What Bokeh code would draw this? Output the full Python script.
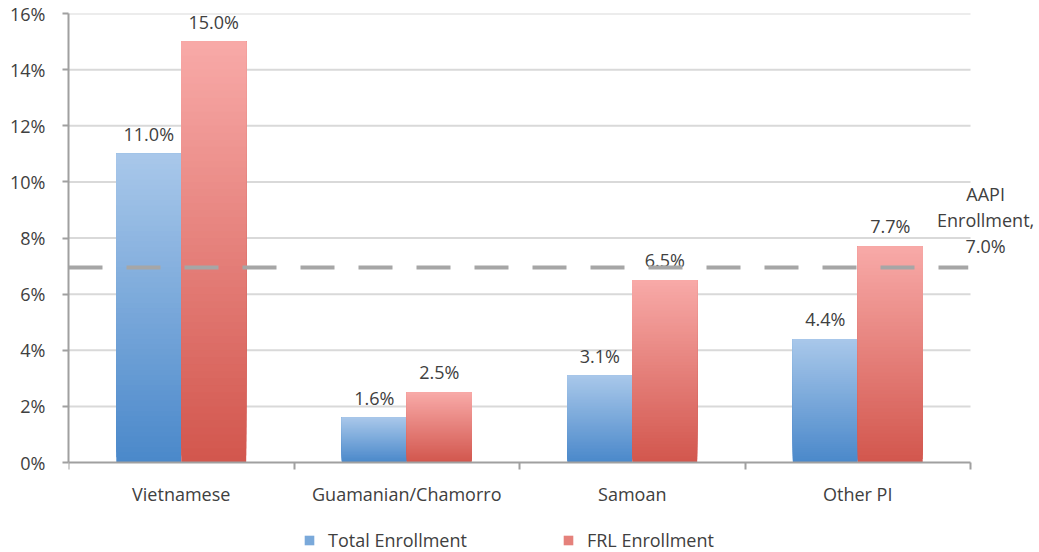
import numpy as np
from bokeh.plotting import figure
from bokeh.models import (ColumnDataSource, FixedTicker, Label, Legend, LegendItem,
                          PrintfTickFormatter, Range1d, LinearAxis)
from bokeh.core.properties import value
from bokeh.embed import file_html
from bokeh.resources import INLINE

categories = ["Vietnamese", "Guamanian/Chamorro", "Samoan", "Other PI"]
total_enrollment = [11.0, 1.6, 3.1, 4.4]
frl_enrollment = [15.0, 2.5, 6.5, 7.7]
aapi_enrollment = 6.95          # drawn level; label shows it rounded to 7.0%
y_ticks = [0, 2, 4, 6, 8, 10, 12, 14, 16]

FONT = "Open Sans"
TXT = "#404040"
FS = "18px"

n = len(categories)
# frame extends to the right and bottom edges so that the side note and the legend fit
p = figure(width=1039, height=552, output_backend="svg", toolbar_location=None,
           x_range=Range1d(0, n * 971 / 902), y_range=Range1d(-16 * 90 / 449, 16),
           x_axis_location=None, min_border_left=68, min_border_right=0,
           min_border_top=13, min_border_bottom=0)
p.outline_line_color = None
p.background_fill_color = "white"
p.border_fill_color = "white"

BAR_W = 0.288
N_SEG = 60


def hex2rgb(h):
    h = h.lstrip("#")
    return np.array([int(h[i:i + 2], 16) for i in (0, 2, 4)], dtype=float)


def gradient_source(values, offset, c_bottom, c_top):
    cb, ct = hex2rgb(c_bottom), hex2rgb(c_top)
    left, right, bottom, top, color = [], [], [], [], []
    for i, v in enumerate(values):
        center = i + 0.5
        for k in range(N_SEG):
            t = (k + 0.5) / N_SEG
            c = cb + (ct - cb) * t
            left.append(center + offset)
            right.append(center + offset + BAR_W)
            bottom.append(v * k / N_SEG)
            top.append(v)
            color.append("#%02x%02x%02x" % tuple(int(round(x)) for x in c))
    return ColumnDataSource(dict(left=left, right=right, bottom=bottom, top=top, color=color))


src_total = gradient_source(total_enrollment, -BAR_W, "#4a88ca", "#a9c8ea")
src_frl = gradient_source(frl_enrollment, 0.0, "#d2564d", "#f8aaa8")

# y grid (limited to the category span)
p.ygrid.grid_line_color = None
p.xgrid.grid_line_color = None
p.segment(x0=0, x1=n, y0=y_ticks[1:], y1=y_ticks[1:], line_color="#d9d9d9", line_width=2)

r_total = p.quad(left="left", right="right", bottom="bottom", top="top", source=src_total,
                 fill_color="color", line_color=None)
r_frl = p.quad(left="left", right="right", bottom="bottom", top="top", source=src_frl,
               fill_color="color", line_color=None)

# data labels
centers = np.arange(n) + 0.5
lab_src = ColumnDataSource(dict(
    x=list(centers - BAR_W / 2) + list(centers + BAR_W / 2),
    y=total_enrollment + frl_enrollment,
    t=[f"{v:.1f}%" for v in total_enrollment + frl_enrollment]))
p.text(x="x", y="y", text="t", source=lab_src, y_offset=-8, text_align="center",
       text_baseline="bottom", text_font=value(FONT), text_font_size=FS, text_color=TXT)

# AAPI reference line
p.line(x=[0, n - 0.01], y=[aapi_enrollment, aapi_enrollment], line_color="#a6a6a6",
       line_width=4, line_dash="34 24")
p.add_layout(Label(x=n + 0.067, y=aapi_enrollment, y_offset=9,
                   text=f"AAPI\nEnrollment,\n{aapi_enrollment:.1f}%",
                   text_align="center", text_baseline="bottom", text_font=FONT,
                   text_font_size=FS, text_color=TXT, text_line_height=1.1))

# y axis
p.yaxis.bounds = (y_ticks[0], y_ticks[-1])
p.yaxis.ticker = FixedTicker(ticks=y_ticks)
p.yaxis.formatter = PrintfTickFormatter(format="%d%%")
p.yaxis.axis_line_color = "#a0a0a0"
p.yaxis.axis_line_width = 2
p.yaxis.major_tick_line_color = "#a0a0a0"
p.yaxis.major_tick_line_width = 2
p.yaxis.major_tick_in = 0
p.yaxis.major_tick_out = 6
p.yaxis.minor_tick_line_color = None
p.yaxis.major_label_text_font = FONT
p.yaxis.major_label_text_font_size = FS
p.yaxis.major_label_text_color = TXT
p.yaxis.major_label_standoff = 17

# x axis at y = 0: boundary ticks (minor) and category labels (major)
xaxis = LinearAxis(
    fixed_location=0, bounds=(0, n),
    ticker=FixedTicker(ticks=list(centers), minor_ticks=list(range(n + 1))),
    major_label_overrides={float(c): name for c, name in zip(centers, categories)})
xaxis.axis_line_color = "#a0a0a0"
xaxis.axis_line_width = 2
xaxis.major_tick_line_color = None
xaxis.major_tick_in = 0
xaxis.major_tick_out = 6
xaxis.minor_tick_line_color = "#a0a0a0"
xaxis.minor_tick_line_width = 2
xaxis.minor_tick_in = 0
xaxis.minor_tick_out = 7
xaxis.major_label_text_font = FONT
xaxis.major_label_text_font_size = FS
xaxis.major_label_text_color = TXT
xaxis.major_label_standoff = 12
p.add_layout(xaxis, "below")

legend = Legend(items=[
    LegendItem(label="Total Enrollment", renderers=[r_total], index=N_SEG // 2),
    LegendItem(label="FRL Enrollment", renderers=[r_frl], index=N_SEG // 2 + N_SEG)],
    orientation="horizontal", location=(235, 0), spacing=95,
    glyph_width=12, glyph_height=12, label_standoff=13,
    label_text_font=FONT, label_text_font_size=FS, label_text_color=TXT,
    border_line_color=None, background_fill_alpha=0, margin=0, padding=2)
p.add_layout(legend, "center")

open("out.html", "w").write(file_html(p, INLINE))
